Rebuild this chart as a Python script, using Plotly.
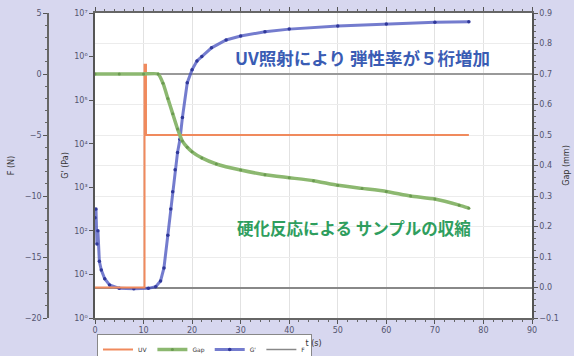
import plotly.graph_objects as go

# ---- data ----
t_gp = [0.0, 0.2, 0.4, 0.6, 0.9, 1.3, 2.0, 3.0, 5.0, 8.0, 11.0, 12.5, 13.5, 14.2, 15.0, 15.6, 16.0, 16.5,
        17.0, 17.5, 18.0, 19.0, 20.0, 21.0, 22.0, 24.0, 27.0, 30.0, 35.0, 40.0, 50.0, 60.0, 70.0, 77.0]
gp_log = [2.3, 2.5, 1.7, 2.0, 1.3, 1.1, 0.9, 0.76, 0.68, 0.67, 0.68, 0.72, 0.85, 1.15, 1.9, 2.5, 2.9, 3.4,
          3.8, 4.1, 4.6, 5.4, 5.7, 5.9, 6.0, 6.2, 6.38, 6.47, 6.57, 6.63, 6.7, 6.75, 6.79, 6.8]
gp = [10 ** v for v in gp_log]

t_gap = [0, 5, 10, 13, 14, 15, 16, 17, 18, 19, 20, 22, 25, 30, 35, 40, 45, 50, 55, 60, 65, 70, 75, 77]
gap = [0.70, 0.70, 0.70, 0.70, 0.67, 0.62, 0.57, 0.52, 0.48, 0.46, 0.445, 0.425, 0.405, 0.385, 0.37,
       0.36, 0.35, 0.335, 0.325, 0.315, 0.30, 0.29, 0.27, 0.26]

t_uv = [0, 10.2, 10.2, 10.5, 10.5, 77]
uv = [0.0, 0.0, 0.73, 0.73, 0.5, 0.5]

x_ticks = list(range(0, 100, 10))
f_ticks = [-20, -15, -10, -5, 0, 5]
g_exps = list(range(0, 8))
g_labels = ["10⁰", "10¹", "10²", "10³", "10⁴", "10⁵", "10⁶", "10⁷"]
r_ticks = [-0.1, 0.0, 0.1, 0.2, 0.3, 0.4, 0.5, 0.6, 0.7, 0.8, 0.9]

text_blue = "UV照射により 弾性率が５桁増加"
text_green = "硬化反応による サンプルの収縮"

W, H = 574, 356
BG = "#d7d7ef"
TICKC = "#555570"
font_jp = "Noto Sans CJK JP"

fig = go.Figure()
fig.add_trace(go.Scatter(x=t_uv, y=uv, yaxis="y3", name="UV", mode="lines",
                         line=dict(color="#f08a5d", width=2)))
fig.add_trace(go.Scatter(x=t_gap, y=gap, yaxis="y3", name="Gap", mode="lines+markers",
                         line=dict(color="#8cb870", width=3.5, shape="spline", smoothing=0.5),
                         marker=dict(size=3, color="#6a9a50")))
fig.add_trace(go.Scatter(x=t_gp, y=gp, yaxis="y", name="G'", mode="lines+markers",
                         line=dict(color="rgba(70,80,190,0.75)", width=3),
                         marker=dict(size=3.5, color="#30389a")))
fig.add_trace(go.Scatter(x=[None], y=[None], yaxis="y2", name="F", mode="lines",
                         line=dict(color="#888888", width=1.5)))

xd = [95 / W, 532 / W]
yd = [1 - 318 / H, 1 - 13 / H]
minor = dict(ticks="outside", ticklen=2, tickcolor="#666")
tf = dict(size=8, color=TICKC)
ttl = dict(size=8, color="#333")

fig.update_layout(
    width=W, height=H,
    margin=dict(l=0, r=0, t=0, b=0, autoexpand=False),
    paper_bgcolor=BG, plot_bgcolor="white",
    font=dict(family="DejaVu Sans", size=8, color=TICKC),
    xaxis=dict(domain=xd, range=[0, 90], tickvals=x_ticks, ticks="outside", ticklen=4,
               tickcolor="#555", showline=True, linecolor="#666", linewidth=1.5, mirror="ticks",
               showgrid=True, gridcolor="#e2e2e2", zeroline=False, minor=dict(dtick=2, **minor),
               title=dict(text="t (s)", font=ttl, standoff=6), tickfont=tf, automargin=False),
    yaxis=dict(type="log", range=[0, 7], tickvals=[10 ** e for e in g_exps],
               ticktext=g_labels, ticks="outside", ticklen=4,
               tickcolor="#555", showline=True, linecolor="#555", linewidth=1.5, showgrid=False,
               zeroline=False, domain=yd, anchor="x",
               title=dict(text="G' (Pa)", font=ttl, standoff=4), tickfont=tf, automargin=False),
    yaxis2=dict(overlaying="y", anchor="free", position=48 / W, side="left", range=[-20, 5],
                tickvals=f_ticks, ticks="outside", ticklen=4, tickcolor="#555", showline=True,
                linecolor="#666", linewidth=1.5, showgrid=False, zeroline=True,
                zerolinecolor="#999", zerolinewidth=1.5, minor=dict(dtick=1, **minor),
                title=dict(text="F (N)", font=ttl, standoff=8), tickfont=tf, automargin=False),
    yaxis3=dict(overlaying="y", anchor="x", side="right", range=[-0.1, 0.9], tickvals=r_ticks,
                tickformat=".1f", ticks="outside", ticklen=4, tickcolor="#555", showline=True,
                linecolor="#555", linewidth=1.5, showgrid=True, gridcolor="#ececec",
                zeroline=True, zerolinecolor="#888", zerolinewidth=1.5,
                minor=dict(dtick=0.02, **minor),
                title=dict(text="Gap (mm)", font=ttl, standoff=6), tickfont=tf, automargin=False),
    legend=dict(orientation="h", x=97 / W, y=1 - 334 / H, xanchor="left", yanchor="top",
                bgcolor="white", bordercolor="#888", borderwidth=1, font=dict(size=6, color="#333"),
                itemwidth=30, tracegroupgap=0),
    showlegend=True,
)

fig.add_annotation(x=55.1, y=1 - 57 / H, xref="x", yref="paper", text="<b>" + text_blue + "</b>",
                   showarrow=False, xanchor="center", yanchor="middle",
                   font=dict(family=font_jp, size=17.5, color="#3a5cb4"))
fig.add_annotation(x=53.4, y=1 - 228 / H, xref="x", yref="paper", text="<b>" + text_green + "</b>",
                   showarrow=False, xanchor="center", yanchor="middle",
                   font=dict(family=font_jp, size=16.5, color="#2f9e5e"))

fig.write_html("out.html", config={"displayModeBar": False},
               post_script="document.body.style.margin='0';window.dispatchEvent(new Event('resize'));")
